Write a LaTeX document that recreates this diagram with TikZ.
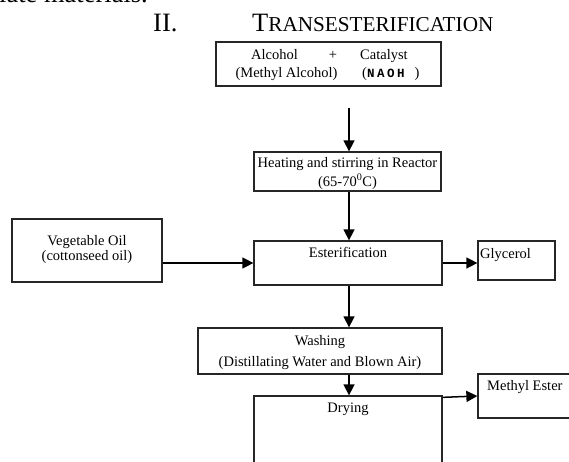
\documentclass[tikz,border=0pt]{standalone}
\usepackage{fontspec}
\setmainfont{Liberation Serif}
\newfontfamily\monof[LetterSpace=20]{Liberation Mono}
\usetikzlibrary{arrows.meta}
\begin{document}
\begin{tikzpicture}[x=1pt,y=-1pt,
  box/.style={draw=black!85,line width=1.3pt,inner sep=0pt},
  txt/.style={font=\fontsize{14.5}{17}\selectfont,inner sep=0pt,anchor=base},
  big/.style={font=\fontsize{26.5}{30}\selectfont,inner sep=0pt,anchor=base west},
  arr/.style={line width=1.5pt,-{Triangle[length=11pt,width=11pt]}}]
\clip (0,0) rectangle (569,462);
% fragment of preceding text and heading
\node[big,anchor=base east] (frag) at (148,3) {particulate materials.};
\node[big] (sec) at (153,32) {II.};
\node[big] (ttl) at (252,32) {T\fontsize{21.2}{30}\selectfont RANSESTERIFICATION};
% boxes
\node[box,minimum width=225,minimum height=44] (top) at (328.5,64) {};
\node[box,minimum width=187,minimum height=39] (heat) at (347.5,171.5) {};
\node[box,minimum width=188,minimum height=44] (ester) at (348,263) {};
\node[box,minimum width=150,minimum height=63] (veg) at (87,250.5) {};
\node[box,minimum width=77,minimum height=39] (glyc) at (516.5,260.5) {};
\node[box,minimum width=244,minimum height=46] (wash) at (320,351) {};
\node[box,minimum width=188,minimum height=104] (dry) at (348,448) {};
\node[box,minimum width=122,minimum height=44] (meth) at (539,396) {};
% texts
\node[txt] (alc) at (274.5,60) {Alcohol};
\node[txt] (plus) at (333,60) {+};
\node[txt] (cat) at (384,60) {Catalyst};
\node[txt] (malc) at (286.5,78) {(Methyl Alcohol)};
\node[txt,anchor=base west] (naoh) at (362,78) {({\monof\bfseries\fontsize{12.5}{15}\selectfont NAOH\ })};
\node[txt] (heat1) at (347.5,168) {Heating and stirring in Reactor};
\node[txt] (heat2) at (347.5,186) {(65-70\textsuperscript{0}C)};
\node[txt] (estt) at (348,257) {Esterification};
\node[txt] (veg1) at (87,245) {Vegetable Oil};
\node[txt] (veg2) at (87,260) {(cottonseed oil)};
\node[txt,anchor=base west] (glyt) at (480,258) {Glycerol};
\node[txt] (wash1) at (320,345) {Washing};
\node[txt] (wash2) at (320,366) {(Distillating Water and Blown Air)};
\node[txt] (dryt) at (348,412) {Drying};
\node[txt,anchor=base west] (metht) at (487,390) {Methyl Ester};
% arrows
\coordinate (a1) at (349,108);
\coordinate (hy) at (0,263);
\draw[arr] (a1) -- (a1 |- heat.north);
\draw[arr] (heat.south -| a1) -- (ester.north -| a1);
\draw[arr] (ester.south -| a1) -- (wash.north -| a1);
\draw[arr] (wash.south -| a1) -- (dry.north -| a1);
\draw[arr] (veg.east |- hy) -- (ester.west |- hy);
\draw[arr] (ester.east |- hy) -- (glyc.west |- hy);
\draw[arr] ([yshift=-2pt]dry.north east) -- (meth.west);
\end{tikzpicture}
\end{document}
